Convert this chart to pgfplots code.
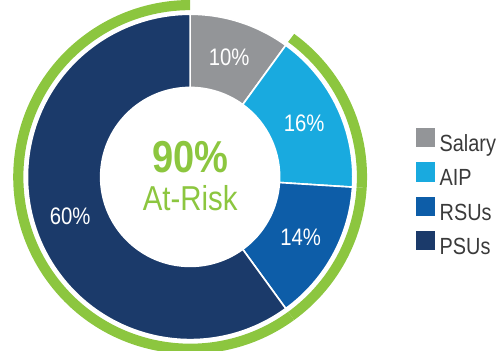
\documentclass[border=0pt]{standalone}
\usepackage{fontspec}
\setmainfont{Liberation Sans}[FakeStretch=0.85]
\usepackage{pgfplots}
\usepackage{pgfplotstable}
\pgfplotsset{compat=1.18}
\definecolor{seg0}{HTML}{939598}
\definecolor{seg1}{HTML}{19AADF}
\definecolor{seg2}{HTML}{0D5DA8}
\definecolor{seg3}{HTML}{1B3A6A}
\definecolor{riskgreen}{HTML}{8CC63F}
\definecolor{legtext}{HTML}{3A3A3A}
\pgfdeclareplotmark{nothing}{}

\pgfplotstableread{
x y value risk ci label
0 0 10 0 0 Salary
0 0 16 1 1 AIP
0 0 14 1 2 RSUs
0 0 60 1 3 PSUs
}\sharetable
\pgfplotstablecreatecol[create col/expr accum={\pgfmathaccuma + \thisrow{value}}{0}]{cum}\sharetable

\begin{document}
\begin{tikzpicture}
\begin{axis}[
  x=1pt, y=1pt, xmin=-187, xmax=309, ymin=-171, ymax=189,
  hide axis, clip=true, clip marker paths=true, clip bounding box=upper bound,
  legend cell align=left,
  legend style={at={(axis cs:222,48)}, anchor=north west, draw=none, fill=none,
    inner sep=0pt, outer sep=0pt, row sep=5.5pt,
    font=\fontsize{23}{23}\selectfont, text=legtext,
    nodes={inner sep=0pt, text height=17pt, text depth=5pt},
    /tikz/every odd column/.append style={column sep=5pt}},
]
\addplot[forget plot, scatter, only marks, mark=nothing,
  visualization depends on={\thisrow{value} \as \val},
  visualization depends on={\thisrow{cum} \as \cum},
  visualization depends on={\thisrow{risk} \as \risk},
  visualization depends on={\thisrow{ci} \as \cidx},
  scatter/@pre marker code/.code={%
    \pgfmathsetmacro\aA{90-3.6*(\cum-\val)}%
    \pgfmathsetmacro\aB{90-3.6*\cum}%
    \pgfmathsetmacro\aM{(\aA+\aB)/2}%
    \pgfmathtruncatemacro\ci{\cidx}%
    \fill[seg\ci, draw=white, line width=1.6pt]
      (\aA:160pt) arc[start angle=\aA, end angle=\aB, radius=160pt]
      -- (\aB:88pt) arc[start angle=\aB, end angle=\aA, radius=88pt] -- cycle;
    \ifdim\risk pt>0.5pt
      \draw[riskgreen, line width=10pt] (\aA:169pt) arc[start angle=\aA, end angle=\aB, radius=169pt];
    \fi
    \node[text=white, inner sep=0pt, font=\fontsize{23.5}{23.5}\selectfont] at (\aM:124pt) {\pgfmathprintnumber[int detect, assume math mode=true]{\val}\%};
  },
  scatter/@post marker code/.code={},
] table[x=x, y=y] {\sharetable};

\node[text=riskgreen, inner sep=0pt, font=\bfseries\fontsize{44}{44}\selectfont] at (axis cs:0,19) {90\%};
\node[text=riskgreen, inner sep=0pt, font=\fontsize{34}{34}\selectfont] at (axis cs:0,-21) {At-Risk};

\addlegendimage{legend image code/.code={\fill[seg0] (0pt,-1pt) rectangle (18pt,17pt);}}
\addlegendentry{Salary}
\addlegendimage{legend image code/.code={\fill[seg1] (0pt,-1pt) rectangle (18pt,17pt);}}
\addlegendentry{AIP}
\addlegendimage{legend image code/.code={\fill[seg2] (0pt,-1pt) rectangle (18pt,17pt);}}
\addlegendentry{RSUs}
\addlegendimage{legend image code/.code={\fill[seg3] (0pt,-1pt) rectangle (18pt,17pt);}}
\addlegendentry{PSUs}
\end{axis}
\end{tikzpicture}
\end{document}
